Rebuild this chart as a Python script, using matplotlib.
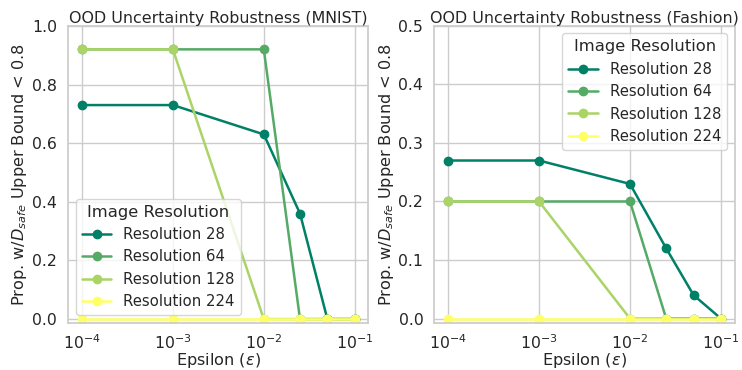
import numpy as np
import matplotlib
matplotlib.use("Agg")
import matplotlib.pyplot as plt
import seaborn as sns

sns.set_theme(style="whitegrid")

eps = [1e-4, 1e-3, 1e-2, 2.5e-2, 5e-2, 1e-1]
labels = ["Resolution 28", "Resolution 64", "Resolution 128", "Resolution 224"]

# MNIST
mnist_28 = [0.73, 0.73, 0.63, 0.36, 0.0, 0.0]
mnist_64 = [0.92, 0.92, 0.92, 0.0, 0.0, 0.0]
mnist_128 = [0.92, 0.92, 0.0, 0.0, 0.0, 0.0]
mnist_224 = [0.0, 0.0, 0.0, 0.0, 0.0, 0.0]

# Fashion
fashion_28 = [0.27, 0.27, 0.23, 0.12, 0.04, 0.0]
fashion_64 = [0.20, 0.20, 0.20, 0.0, 0.0, 0.0]
fashion_128 = [0.20, 0.20, 0.0, 0.0, 0.0, 0.0]
fashion_224 = [0.0, 0.0, 0.0, 0.0, 0.0, 0.0]

colors = plt.cm.summer(np.linspace(0, 1, 4))

fig, (ax1, ax2) = plt.subplots(1, 2, figsize=(7.42, 3.7), dpi=100)
fig.subplots_adjust(left=0.092, right=0.99, top=0.93, bottom=0.128, wspace=0.22)

def draw(ax, series, title, ymax, ylo, loc):
    for vals, lab, c in zip(series, labels, colors):
        ax.plot(eps, vals, marker='o', color=c, label=lab, lw=1.8, markersize=6)
    ax.set_xscale('log')
    ax.set_ylim(ylo, ymax)
    ax.set_title(title, fontsize=11.4, pad=2)
    ax.set_xlabel(r'Epsilon ($\epsilon$)', fontsize=11.6, labelpad=-1)
    ax.set_ylabel(r'Prop. w/$D_{safe}$ Upper Bound < 0.8', fontsize=11.6, labelpad=2)
    ax.tick_params(labelsize=11.3, pad=2)
    ax.legend(title='Image Resolution', loc=loc, fontsize=10.7, title_fontsize=11.8)

draw(ax1, [mnist_28, mnist_64, mnist_128, mnist_224],
     'OOD Uncertainty Robustness (MNIST)', 1.0, -0.012, 'lower left')
ax1.set_yticks([0.0, 0.2, 0.4, 0.6, 0.8, 1.0])

draw(ax2, [fashion_28, fashion_64, fashion_128, fashion_224],
     'OOD Uncertainty Robustness (Fashion)', 0.5, -0.007, 'upper right')
ax2.set_yticks([0.0, 0.1, 0.2, 0.3, 0.4, 0.5])

fig.savefig("out.png", dpi=100)
